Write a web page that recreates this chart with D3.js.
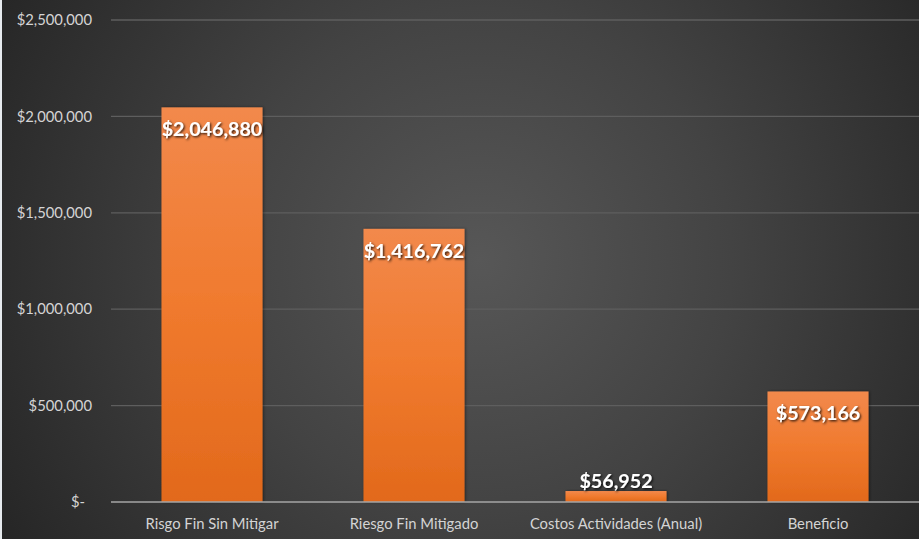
<!DOCTYPE html>
<html>
<head>
<meta charset="utf-8">
<script src="https://cdn.jsdelivr.net/npm/d3@7"></script>
<style>
  html, body { margin: 0; padding: 0; background: #262626; }
  svg { display: block; }
</style>
</head>
<body>
<svg id="chart" width="919" height="539"></svg>
<script>
// Annual financial risk summary
const categories = ["Risgo Fin Sin Mitigar", "Riesgo Fin Mitigado", "Costos Actividades (Anual)", "Beneficio"];
const values = [2046880, 1416762, 56952, 573166];
const yTicks = [0, 500000, 1000000, 1500000, 2000000, 2500000];

const W = 919, H = 539;
const margin = { top: 20, right: 0, bottom: 37, left: 111 };

const svg = d3.select("#chart");
const defs = svg.append("defs");

// Dark radial background, lighter towards the middle
const bg = defs.append("radialGradient").attr("id", "bgGrad")
  .attr("gradientUnits", "userSpaceOnUse")
  .attr("cx", 480).attr("cy", 260).attr("r", 560);
bg.append("stop").attr("offset", "0%").attr("stop-color", "#575757");
bg.append("stop").attr("offset", "45%").attr("stop-color", "#434343");
bg.append("stop").attr("offset", "100%").attr("stop-color", "#252525");

// Orange bar fill, lighter at the top
const barGrad = defs.append("linearGradient").attr("id", "barGrad")
  .attr("x1", 0).attr("y1", 0).attr("x2", 0).attr("y2", 1);
barGrad.append("stop").attr("offset", "0%").attr("stop-color", "#F2894C");
barGrad.append("stop").attr("offset", "50%").attr("stop-color", "#F07A2E");
barGrad.append("stop").attr("offset", "100%").attr("stop-color", "#E2691B");

const shadow = defs.append("filter").attr("id", "txtShadow")
  .attr("x", "-20%").attr("y", "-40%").attr("width", "140%").attr("height", "180%");
shadow.append("feDropShadow").attr("dx", 1.2).attr("dy", 1.2)
  .attr("stdDeviation", 0.9).attr("flood-color", "#000").attr("flood-opacity", 0.85);

const barShadow = defs.append("filter").attr("id", "barShadow")
  .attr("x", "-10%").attr("y", "-10%").attr("width", "130%").attr("height", "120%");
barShadow.append("feDropShadow").attr("dx", 1).attr("dy", 0)
  .attr("stdDeviation", 1.5).attr("flood-color", "#000").attr("flood-opacity", 0.45);

svg.append("rect").attr("width", W).attr("height", H).attr("fill", "url(#bgGrad)");
svg.append("rect").attr("width", 2).attr("height", H).attr("fill", "#e6eaee");

const x = d3.scaleBand()
  .domain(categories)
  .range([margin.left, W - margin.right])
  .paddingInner(0.5)
  .paddingOuter(0.25);

const y = d3.scaleLinear()
  .domain([0, 2500000])
  .range([H - margin.bottom, margin.top]);

// Gridlines
svg.append("g")
  .selectAll("line")
  .data(yTicks.filter(d => d > 0))
  .join("line")
  .attr("x1", margin.left).attr("x2", W)
  .attr("y1", d => y(d)).attr("y2", d => y(d))
  .attr("stroke", "#5e5e5e").attr("stroke-width", 1.3);

// Y axis labels
const fmtMoney = d3.format("$,.0f");
const yAxis = d3.axisLeft(y)
  .tickValues(yTicks)
  .tickSize(0)
  .tickPadding(0)
  .tickFormat(d => d === 0 ? "$-" : fmtMoney(d));
const gy = svg.append("g")
  .attr("transform", `translate(${margin.left - 19},0)`)
  .call(yAxis);
gy.select(".domain").remove();
gy.selectAll("text")
  .attr("fill", "#d4d4d4")
  .attr("font-family", "Lato, 'Open Sans', sans-serif")
  .attr("font-size", 14.8)
  .attr("dx", d => d === 0 ? -7 : 0);

// Bars
svg.append("g")
  .selectAll("rect")
  .data(values)
  .join("rect")
  .attr("x", (d, i) => x(categories[i]))
  .attr("y", d => y(d))
  .attr("width", x.bandwidth())
  .attr("height", d => y(0) - y(d))
  .attr("fill", "url(#barGrad)")
  .attr("filter", "url(#barShadow)");

// Baseline
svg.append("line")
  .attr("x1", margin.left).attr("x2", W)
  .attr("y1", y(0)).attr("y2", y(0))
  .attr("stroke", "#a6a6a6").attr("stroke-width", 1.3);

// X axis labels
const xAxis = d3.axisBottom(x).tickSize(0).tickPadding(0);
const gx = svg.append("g")
  .attr("transform", `translate(0,${y(0) + 27})`)
  .call(xAxis);
gx.select(".domain").remove();
gx.selectAll("text")
  .attr("dy", 0)
  .attr("fill", "#d4d4d4")
  .attr("font-family", "Lato, 'Open Sans', sans-serif")
  .attr("font-size", 14.8);

// Value labels: inside the top of the bar, above it if the bar is too short
svg.append("g")
  .selectAll("text")
  .data(values)
  .join("text")
  .attr("x", (d, i) => x(categories[i]) + x.bandwidth() / 2)
  .attr("y", d => (y(0) - y(d)) > 40 ? y(d) + 29 : y(d) - 3)
  .attr("text-anchor", "middle")
  .attr("fill", "#ffffff")
  .attr("font-family", "Lato, 'Open Sans', sans-serif")
  .attr("font-weight", "bold")
  .attr("font-size", 19.7)
  .attr("filter", "url(#txtShadow)")
  .text(d => fmtMoney(d));
</script>
</body>
</html>
